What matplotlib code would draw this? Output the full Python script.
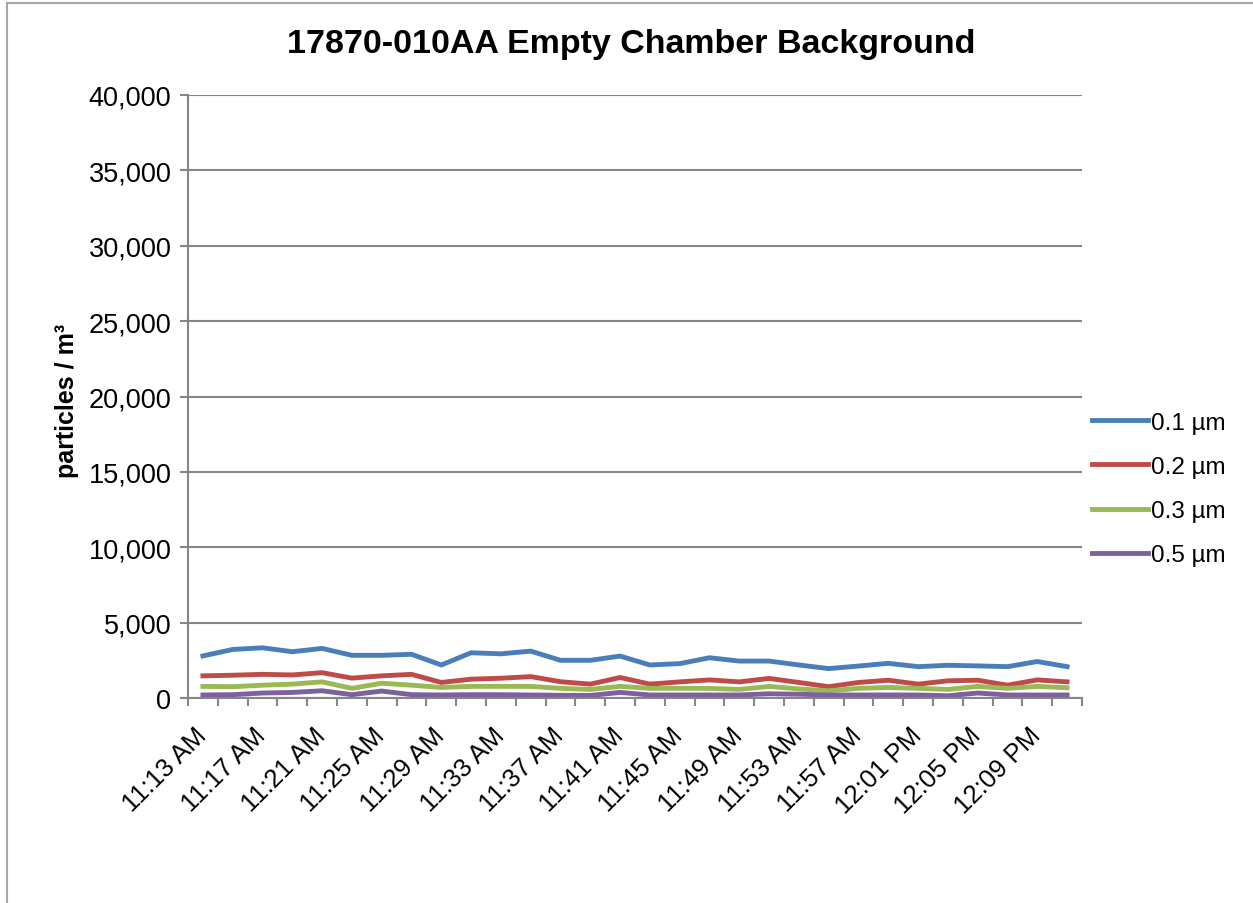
import numpy as np
import matplotlib
matplotlib.use("Agg")
from matplotlib import pyplot as plt
from matplotlib.patches import Rectangle
from matplotlib.transforms import ScaledTranslation, blended_transform_factory

plt.rcParams['font.family'] = ['Liberation Sans', 'DejaVu Sans']

# one reading every 2 minutes, 11:13 AM .. 12:11 PM
times = ['11:13 AM', '11:15 AM', '11:17 AM', '11:19 AM', '11:21 AM', '11:23 AM',
         '11:25 AM', '11:27 AM', '11:29 AM', '11:31 AM', '11:33 AM', '11:35 AM',
         '11:37 AM', '11:39 AM', '11:41 AM', '11:43 AM', '11:45 AM', '11:47 AM',
         '11:49 AM', '11:51 AM', '11:53 AM', '11:55 AM', '11:57 AM', '11:59 AM',
         '12:01 PM', '12:03 PM', '12:05 PM', '12:07 PM', '12:09 PM', '12:11 PM']

p01 = [2790, 3220, 3330, 3070, 3290, 2830, 2830, 2900, 2190, 3000,
       2930, 3110, 2500, 2500, 2780, 2190, 2280, 2670, 2450, 2450,
       2190, 1950, 2120, 2300, 2080, 2170, 2130, 2080, 2420, 2080]
p02 = [1470, 1510, 1570, 1530, 1680, 1320, 1470, 1570, 1030, 1250,
       1310, 1420, 1080, 920, 1360, 920, 1070, 1200, 1070, 1300,
       1030, 750, 1030, 1180, 920, 1140, 1180, 850, 1200, 1070]
p03 = [770, 750, 850, 920, 1070, 640, 980, 850, 700, 770,
       770, 770, 640, 570, 770, 640, 640, 640, 570, 770,
       600, 480, 640, 700, 640, 570, 770, 640, 770, 680]
p05 = [200, 220, 330, 370, 480, 220, 460, 220, 200, 220,
       220, 200, 180, 170, 370, 200, 200, 200, 200, 280,
       250, 200, 200, 200, 200, 150, 330, 200, 200, 200]

series = [('0.1 µm', p01, '#4A7EBB'), ('0.2 µm', p02, '#BE4B48'),
          ('0.3 µm', p03, '#98B954'), ('0.5 µm', p05, '#7D60A0')]

fig = plt.figure(figsize=(12.53, 9.04), dpi=100)
fig.patches.append(Rectangle((7 / 1253, -0.1), 1.2, 1.1 - 3.5 / 904,
                             transform=fig.transFigure, fill=False,
                             edgecolor='#A6A6A6', linewidth=1.5))
ax = fig.add_axes([188 / 1253, 1 - 699 / 904, 894 / 1253, 603 / 904])

x = np.arange(len(times))
for name, vals, col in series:
    ax.plot(x, vals, color=col, linewidth=3.5, label=name, solid_joinstyle='round')

ax.set_xlim(-0.5, len(times) - 0.5)
ax.set_ylim(0, 40000)
ax.set_yticks(np.arange(0, 40001, 5000))
ax.set_yticklabels(['{:,}'.format(v) for v in range(0, 40001, 5000)], fontsize=19.5)
ax.yaxis.grid(True, color='#868686', linewidth=1.5)
ax.set_axisbelow(True)

# category labels every second reading, rotated 45 deg
ax.set_xticks(np.arange(-0.5, len(times), 1))
ax.set_xticklabels([])
ax.tick_params(axis='x', length=6, color='#868686', width=1.5)
tr = blended_transform_factory(ax.transData, ax.transAxes) + \
    ScaledTranslation(-0.09, -0.25, fig.dpi_scale_trans)
for i in x[::2]:
    ax.text(i, 0, times[i], transform=tr, fontsize=18.5, rotation=45,
            ha='right', va='top', rotation_mode='anchor')
ax.tick_params(axis='y', length=6, color='#868686', width=1.5, pad=6)

for s in ['top', 'right']:
    ax.spines[s].set_visible(False)
for s in ['left', 'bottom']:
    ax.spines[s].set_color('#868686')
    ax.spines[s].set_linewidth(1.5)

fig.text(0.504, 1 - 45 / 904, '17870-010AA Empty Chamber Background',
         fontsize=24.5, fontweight='bold', ha='center', va='center')
fig.text(67 / 1253, 1 - 401 / 904, 'particles / m³', fontsize=18,
         fontweight='bold', rotation=90, ha='center', va='center')

fig.legend(loc='center left', bbox_to_anchor=(1080 / 1253, 1 - 490 / 904),
           frameon=False, fontsize=17.5, handlelength=2.3, handletextpad=0.12,
           labelspacing=0.91, borderpad=0)

fig.savefig('out.png', dpi=100)
